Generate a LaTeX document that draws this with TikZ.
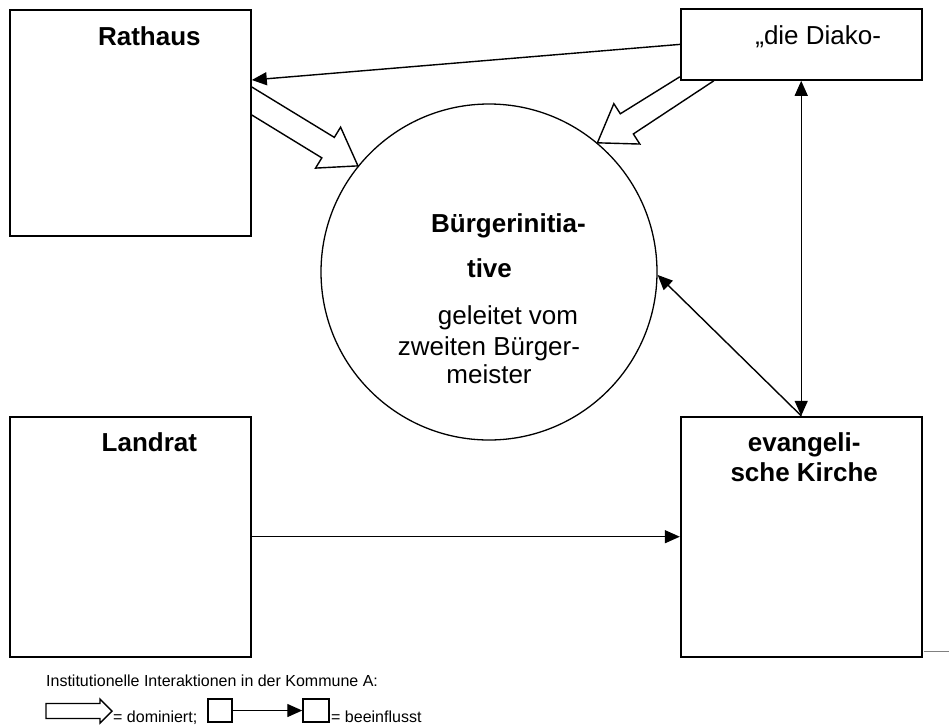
\documentclass[tikz,border=0pt]{standalone}
\usepackage{fontspec}
\setmainfont{Liberation Sans}
\usetikzlibrary{positioning,arrows.meta,calc}

% hohler Pfeil: Schaftkante links, Schaftkante rechts, Spitze
\newcommand{\hollowarrow}[3]{%
  \coordinate (ha-s) at ($(#1)!0.5!(#2)$);
  \coordinate (ha-n) at ($(#3)!35pt!(ha-s)$);
  \draw[hollow] (#1) -- ($(ha-n)!12pt!90:(#3)$) -- ($(ha-n)!24pt!90:(#3)$) -- (#3)
    -- ($(ha-n)!24pt!-90:(#3)$) -- ($(ha-n)!12pt!-90:(#3)$) -- (#2);
}

\begin{document}
\begin{tikzpicture}[x=1pt, y=-1pt,
    >={Triangle[length=15pt, width=13pt]},
    box/.style={draw, line width=1.8pt, inner sep=0, minimum width=241},
    title/.style={font=\fontsize{26}{30}\selectfont\bfseries, anchor=base, inner sep=0},
    body/.style={font=\fontsize{26}{30}\selectfont, anchor=base, inner sep=0},
    note/.style={font=\fontsize{16}{19}\selectfont, anchor=base west, inner sep=0},
    influence/.style={line width=1.4pt, ->},
    hollow/.style={line width=1.4pt, line join=miter},
    smallbox/.style={draw, line width=1.5pt, minimum height=23, inner sep=0}]

  \useasboundingbox (0,0) rectangle (949,726);

  % Akteure
  \node[box, minimum height=226, anchor=north west] (rathaus) at (9,9) {};
  \node[box, minimum height=240, below=179pt of rathaus] (landrat) {};
  \node[box, minimum height=240, right=428pt of landrat] (kirche) {};
  \node[box, minimum height=71, above=335pt of kirche] (diakonie) {};
  \node[draw, circle, line width=1.3pt, minimum size=336, inner sep=0] (bi) at (489,272) {};

  % Beschriftungen
  \node[title] at ($(rathaus.north)+(19,36)$) {Rathaus};
  \node[title] at ($(landrat.north)+(19,36)$) {Landrat};
  \node[body] at ($(diakonie.north)+(17,36)$) {„die Diako-};
  \node[title] at ($(kirche.north)+(3,36)$) {evangeli-};
  \node[title] at ($(kirche.north)+(3,66)$) {sche Kirche};
  \node[title] at ($(bi.center)+(19.5,-40)$) {Bürgerinitia-};
  \node[title] at ($(bi.center)+(0.5,5)$) {tive};
  \node[body] at ($(bi.center)+(19,52)$) {geleitet vom};
  \node[body] at ($(bi.center)+(0,83)$) {zweiten Bürger-};
  \node[body] at ($(bi.center)+(0,111)$) {meister};

  % beeinflusst
  \draw[influence] (diakonie.west) -- ($(rathaus.north east)+(0,71)$);
  \draw[influence] (landrat) -- (kirche);
  \draw[influence] (kirche.north) -- (bi.-1);
  \draw[influence, <->] (diakonie.south) -- (kirche.north);

  % dominiert
  \coordinate (r1) at ($(rathaus.north east)+(0,78)$);
  \coordinate (r2) at ($(rathaus.north east)+(0,106)$);
  \hollowarrow{r1}{r2}{bi.141}
  \coordinate (d1) at ($(diakonie.south west)+(34,0)$);
  \coordinate (d2) at ($(diakonie.south west)+(0,-4)$);
  \hollowarrow{d1}{d2}{bi.50}

  \coordinate (rest) at ($(kirche.south east)+(1,-6)$);
  \draw[gray, line width=1pt] (rest) -- +(26,0);

  % Legende
  \node[note] (caption) at (46,686) {Institutionelle Interaktionen in der Kommune A:};
  \draw[hollow] (46,703.5) -- (100,703.5) -- (100,699) -- (112,711) -- (100,723)
    -- (100,718.5) -- (46,718.5) -- cycle;
  \node[note] (dom) at (113,722) {= dominiert;};
  \node[smallbox, minimum width=24] (lb1) at (220,710.5) {};
  \node[smallbox, minimum width=26] (lb2) at (316,710.5) {};
  \draw[influence] (lb1) -- (lb2);
  \node[note] (beein) at (331,722) {= beeinflusst};
\end{tikzpicture}
\end{document}
